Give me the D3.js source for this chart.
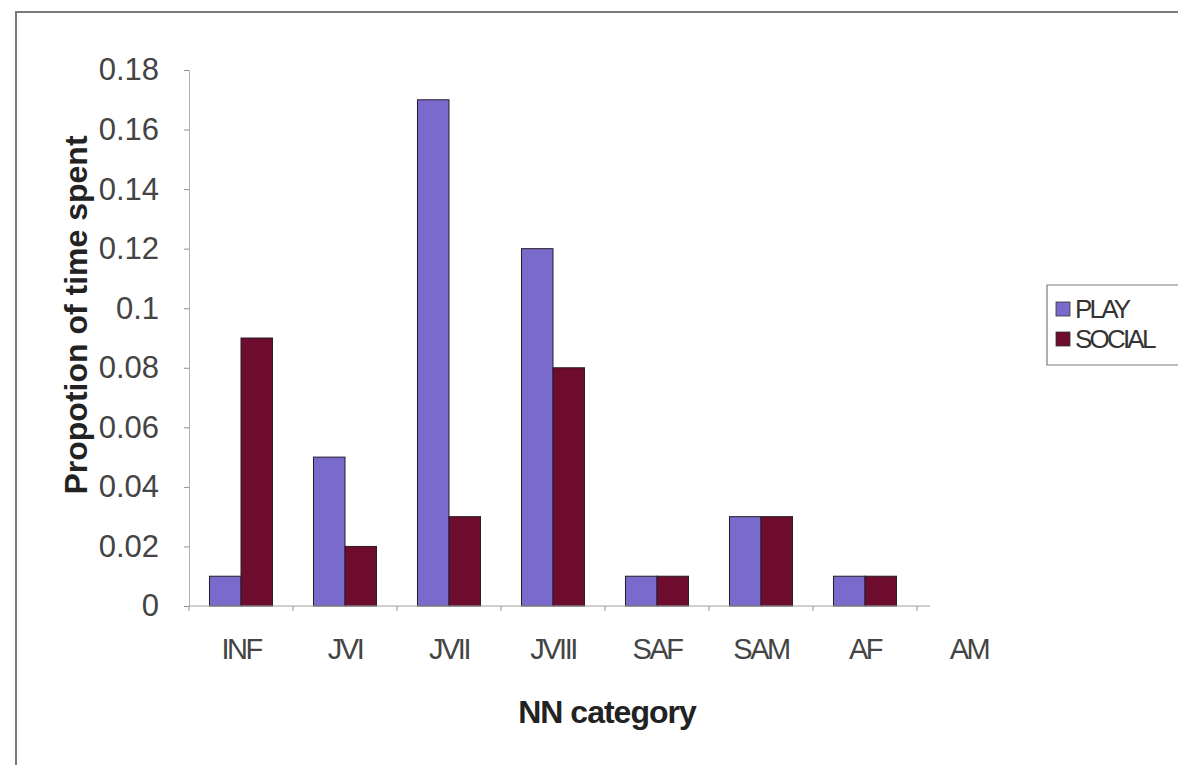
<!DOCTYPE html>
<html>
<head>
<meta charset="utf-8">
<script src="https://cdnjs.cloudflare.com/ajax/libs/d3/7.8.5/d3.min.js"></script>
<style>
  html, body { margin: 0; padding: 0; background: #fff; }
  svg { display: block; font-family: "Liberation Sans", Arial, sans-serif; }
</style>
</head>
<body>
<svg id="chart" width="1178" height="765"></svg>
<script>
// Age/sex categories along the x axis
const categories = ["INF", "JVI", "JVII", "JVIII", "SAF", "SAM", "AF", "AM"];
// Series names and colours
const seriesNames = ["PLAY", "SOCIAL"];
const seriesColors = ["#7a6acb", "#6d0c2d"];
// Proportion of time spent per category
const playValues   = [0.01, 0.05, 0.17, 0.12, 0.01, 0.03, 0.01, 0];
const socialValues = [0.09, 0.02, 0.03, 0.08, 0.01, 0.03, 0.01, 0];
// Y axis ticks and their labels
const yTicks      = [0, 0.02, 0.04, 0.06, 0.08, 0.1, 0.12, 0.14, 0.16, 0.18];
const yTickLabels = ["0", "0.02", "0.04", "0.06", "0.08", "0.1", "0.12", "0.14", "0.16", "0.18"];

const svg = d3.select("#chart");
const W = 1178, H = 765;

// outer chart frame (continues past the right and bottom edges)
svg.append("path")
  .attr("d", `M16,${H + 5} L16,12 L${W + 5},12`)
  .attr("fill", "none").attr("stroke", "#7a7a7a").attr("stroke-width", 2);

const plot = { left: 189, right: 1021, top: 70, bottom: 606 };

const x = d3.scaleBand().domain(categories).range([plot.left, plot.right]).paddingInner(0).paddingOuter(0);
const xs = d3.scaleBand().domain(seriesNames).range([0, x.bandwidth()]).paddingInner(0).paddingOuter(0.65);
const y = d3.scaleLinear().domain([0, 0.18]).range([plot.bottom, plot.top]);

const rows = categories.map((c, i) => ({ cat: c, vals: [playValues[i], socialValues[i]] }));

// bars
const groups = svg.append("g").selectAll("g").data(rows).join("g")
  .attr("transform", d => `translate(${x(d.cat)},0)`);
groups.selectAll("rect")
  .data(d => d.vals.map((v, k) => ({ v, k })).filter(e => e.v > 0))
  .join("rect")
  .attr("x", e => xs(seriesNames[e.k]))
  .attr("width", xs.bandwidth())
  .attr("y", e => y(e.v))
  .attr("height", e => y(0) - y(e.v))
  .attr("fill", e => seriesColors[e.k])
  .attr("stroke", "#2a1a2a").attr("stroke-width", 1);

// y axis
const yAxis = svg.append("g").attr("transform", `translate(${plot.left},0)`)
  .call(d3.axisLeft(y).tickValues(yTicks).tickSize(5).tickPadding(25)
    .tickFormat((d, i) => yTickLabels[i]));
yAxis.select(".domain").attr("stroke", "#b0b0b0");
yAxis.selectAll(".tick line").attr("stroke", "#909090");
yAxis.selectAll(".tick text").attr("font-size", 31).attr("fill", "#444")
  .attr("font-family", "'Liberation Sans', Arial, sans-serif");

// x axis: line, boundary ticks and centred labels
const xAxisG = svg.append("g");
xAxisG.append("line")
  .attr("x1", plot.left).attr("x2", x("AM") + 13)
  .attr("y1", y(0)).attr("y2", y(0))
  .attr("stroke", "#a0a0a0").attr("stroke-width", 1);
xAxisG.selectAll("line.btick").data(categories).join("line")
  .attr("class", "btick")
  .attr("x1", d => x(d)).attr("x2", d => x(d))
  .attr("y1", y(0)).attr("y2", y(0) + 5)
  .attr("stroke", "#909090");
xAxisG.selectAll("text").data(categories).join("text")
  .attr("x", d => x(d) + x.bandwidth() / 2)
  .attr("y", 659)
  .attr("text-anchor", "middle")
  .attr("font-size", 29)
  .attr("letter-spacing", -2.5)
  .attr("fill", "#444")
  .text(d => d);

// axis titles
svg.append("text")
  .attr("x", 607).attr("y", 723)
  .attr("text-anchor", "middle")
  .attr("font-size", 32).attr("font-weight", "bold")
  .attr("letter-spacing", -1)
  .attr("fill", "#222")
  .text("NN category");

svg.append("text")
  .attr("transform", "translate(87,315) rotate(-90)")
  .attr("text-anchor", "middle")
  .attr("font-size", 32).attr("font-weight", "bold")
  .attr("fill", "#222")
  .text("Propotion of time spent");

// legend
const lg = svg.append("g").attr("transform", "translate(1047,285)");
lg.append("path")
  .attr("d", `M${W - 1047 + 5},0 L0,0 L0,80 L${W - 1047 + 5},80`)
  .attr("fill", "#fff").attr("stroke", "#7a7a7a").attr("stroke-width", 1.2);
seriesNames.forEach((name, k) => {
  const row = lg.append("g").attr("transform", `translate(0,${24 + k * 30})`);
  row.append("rect").attr("x", 9).attr("y", -7).attr("width", 14).attr("height", 14)
    .attr("fill", seriesColors[k]).attr("stroke", "#333").attr("stroke-width", 0.8);
  row.append("text").attr("x", 28).attr("y", 9)
    .attr("font-size", 26).attr("letter-spacing", -2.8).attr("fill", "#333")
    .text(name);
});
</script>
</body>
</html>
